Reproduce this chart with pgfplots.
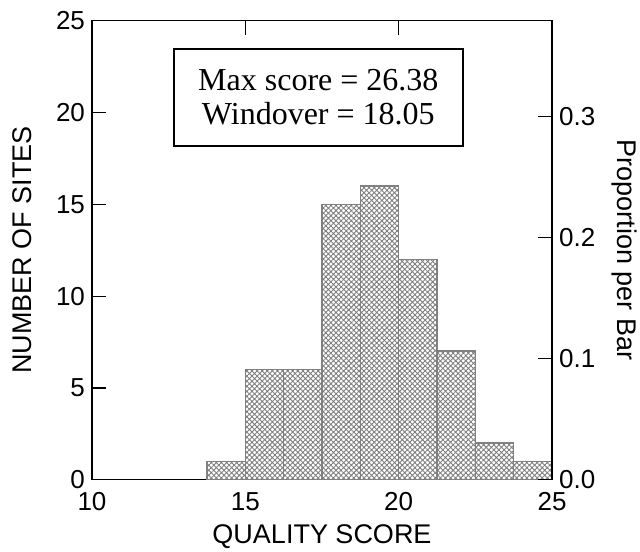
\documentclass[border=0pt]{standalone}
\usepackage{fontspec}
\setmainfont{Liberation Sans}
\newfontfamily\boxfont{Liberation Serif}
\usepackage{pgfplots}
\pgfplotsset{compat=1.18}
\usetikzlibrary{patterns.meta}

\begin{document}
\begin{tikzpicture}
\pgfplotsset{
  every axis/.append style={
    scale only axis, width=230pt, height=229.5pt,
    at={(0,0)}, anchor=south west,
    tick align=inside, major tick length=7pt,
    tick style={black, line width=0.6pt},
    axis line style={line width=0.6pt},
    ticklabel style={font=\fontsize{13}{13}\selectfont},
    /pgf/number format/assume math mode=true,
  },
}
\begin{axis}[
    xmin=10, xmax=25, ymin=0, ymax=25,
    xtick={10,15,20,25}, ytick={0,5,...,25},
    xtick pos=both, ytick pos=left,
    xticklabel style={yshift=-3pt},
    xlabel={QUALITY SCORE}, ylabel={NUMBER OF SITES},
    every axis x label/.style={at={(axis description cs:0.5,-0.124)}, anchor=center,
      font=\fontsize{13.5}{14}\selectfont},
    every axis y label/.style={at={(axis description cs:-0.152,0.5)}, anchor=center, rotate=90,
      font=\fontsize{13.5}{14}\selectfont},
  ]
  % histogram, bins of 1.25 starting at 13.75
  \addplot[ybar interval, draw=gray, line width=0.7pt,
    pattern={Hatch[angle=45, distance=1.8pt, line width=0.45pt]}, pattern color=gray]
    coordinates {(13.75,1) (15,6) (16.25,6) (17.5,15) (18.75,16) (20,12) (21.25,7) (22.5,2) (23.75,1) (25,1)};
  \node[draw, line width=0.8pt, fill=white, minimum width=144.5pt, minimum height=48.5pt,
    align=center, font=\boxfont\fontsize{16}{17}\selectfont]
    at (axis cs:17.38,20.83) {Max score = 26.38\\Windover = 18.05};
\end{axis}
\begin{axis}[
    xmin=10, xmax=25, ymin=0, ymax=0.378788,
    hide x axis, axis y line*=right,
    ytick={0,0.1,0.2,0.3},
    yticklabel style={/pgf/number format/.cd, fixed, fixed zerofill, precision=1},
    ylabel={Proportion per Bar},
    every axis y label/.style={at={(axis description cs:1.157,0.5)}, anchor=center, rotate=-90,
      font=\fontsize{13.5}{14}\selectfont},
  ]
  \addplot[draw=none] coordinates {(10,0)};
\end{axis}
\pgfresetboundingbox
\path[use as bounding box] (-46pt,-36pt) rectangle (274pt,239.85pt);
\end{tikzpicture}
\end{document}
